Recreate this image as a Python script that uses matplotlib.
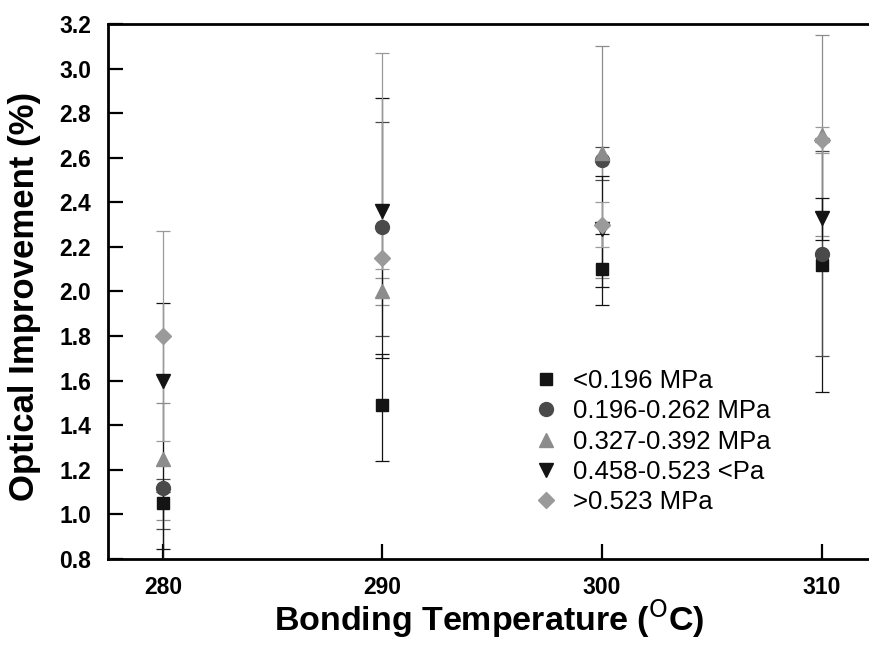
import matplotlib
matplotlib.use("Agg")
import matplotlib.pyplot as plt
import numpy as np

# Bonding temperature (deg C)
temps = [280, 290, 300, 310]

labels = ["<0.196 MPa", "0.196-0.262 MPa", "0.327-0.392 MPa",
          "0.458-0.523 <Pa", ">0.523 MPa"]

# mean optical improvement (%) per pressure range
sq_mean   = [1.05, 1.49, 2.10, 2.12]
circ_mean = [1.12, 2.29, 2.59, 2.17]
tup_mean  = [1.25, 2.00, 2.62, 2.70]
tdn_mean  = [1.60, 2.36, 2.28, 2.33]
dia_mean  = [1.80, 2.15, 2.30, 2.68]

# error bar ends (lower, upper)
sq_lo   = [0.845, 1.24, 1.94, 1.55]
sq_hi   = [1.10,  1.72, 2.26, 2.69]
circ_lo = [0.935, 1.80, 2.50, 1.71]
circ_hi = [1.158, 2.76, 2.65, 2.63]
tup_lo  = [0.975, 1.94, 2.06, 2.25]
tup_hi  = [1.50,  2.06, 3.10, 3.15]
tdn_lo  = [0.75,  1.70, 2.02, 2.23]
tdn_hi  = [1.95,  2.87, 2.52, 2.42]
dia_lo  = [1.33,  2.10, 2.20, 2.62]
dia_hi  = [2.27,  3.07, 2.40, 2.74]

yticks = [0.8, 1.0, 1.2, 1.4, 1.6, 1.8, 2.0, 2.2, 2.4, 2.6, 2.8, 3.0, 3.2]

means = [sq_mean, circ_mean, tup_mean, tdn_mean, dia_mean]
los   = [sq_lo, circ_lo, tup_lo, tdn_lo, dia_lo]
his   = [sq_hi, circ_hi, tup_hi, tdn_hi, dia_hi]
markers = ["s", "o", "^", "v", "D"]
msizes  = [9, 10, 10.5, 10.5, 8]
colors  = ["#141414", "#4a4a4a", "#8c8c8c", "#141414", "#9a9a9a"]

plt.rcParams["font.family"] = ["Liberation Sans", "DejaVu Sans"]

fig = plt.figure(figsize=(8.7, 6.46), dpi=100)
ax = fig.add_axes([108/870, 1-559/646, 1-108/870, (559-24)/646])

handles = []
for m, lo, hi, mk, ms, c, lbl in zip(means, los, his, markers, msizes, colors, labels):
    m  = np.array(m)
    yerr = [m-np.array(lo), np.array(hi)-m]
    eb = ax.errorbar(temps, m, yerr=yerr, fmt=mk, ms=ms, color=c, mec=c,
                     ecolor=c, elinewidth=0.9, capsize=5, capthick=0.9,
                     label=lbl, zorder=3)
    handles.append(eb.lines[0])

ax.set_xlim(277.5, 312.2)
ax.set_ylim(0.8, 3.2)
ax.set_xticks(temps)
ax.set_xticklabels([str(t) for t in temps], fontsize=16.5, fontweight="bold")
ax.set_yticks(yticks)
ax.set_yticklabels(["%.1f" % v for v in yticks], fontsize=16.5, fontweight="bold")

for s in ["left", "bottom", "top"]:
    ax.spines[s].set_linewidth(2.0)
ax.spines["right"].set_visible(False)
ax.tick_params(direction="in", length=11, width=1.6, pad=12)

ax.set_xlabel("Bonding Temperature ($^{\\mathrm{O}}$C)", fontsize=24.5, fontweight="bold")
ax.set_ylabel("Optical Improvement (%)", fontsize=25, fontweight="bold")
ax.xaxis.set_label_coords(0.5, -0.072)
ax.yaxis.set_label_coords(-0.088, 0.4916)

ax.legend(handles, labels, loc="center left", bbox_to_anchor=(0.5577, 0.2196),
          frameon=False, fontsize=18.5, handlelength=1.0,
          handletextpad=0.55, labelspacing=0.25, borderpad=0,
          borderaxespad=0, numpoints=1)

fig.savefig("out.png", dpi=100)
